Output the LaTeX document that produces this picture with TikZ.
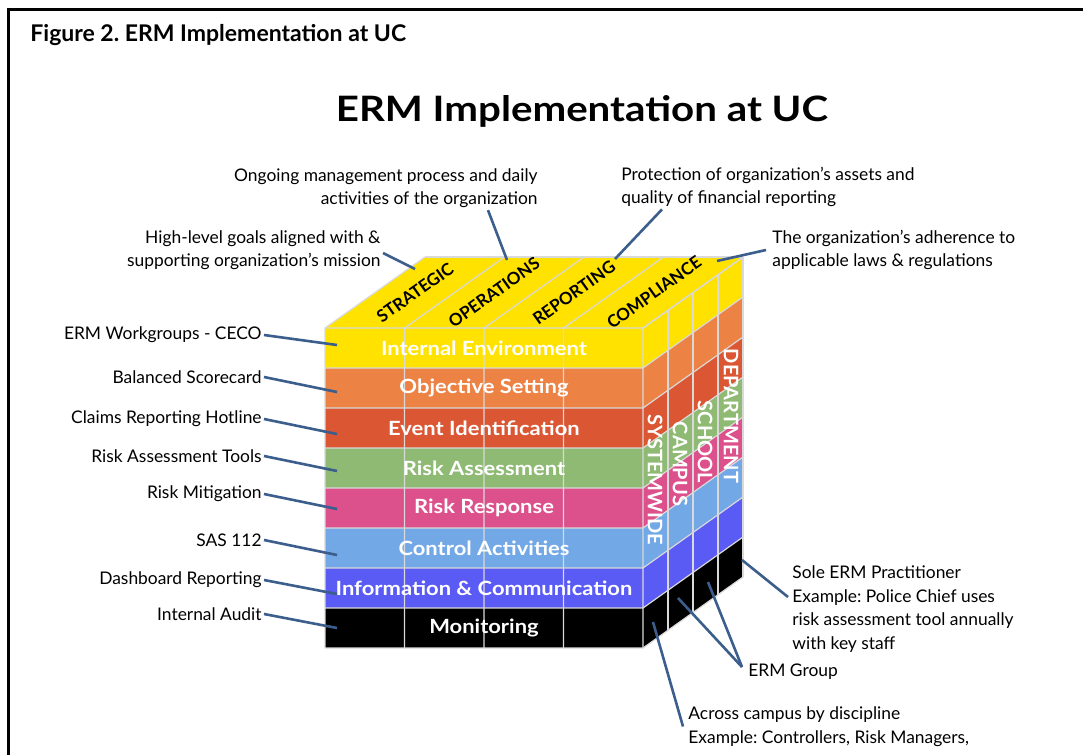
\documentclass[tikz,border=0pt]{standalone}
\usepackage{fontspec}
\setmainfont{Lato}
\newfontfamily\widefont[FakeStretch=1.15]{Lato}
\newfontfamily\layerfont[FakeStretch=1.12]{Lato}
\usetikzlibrary{positioning}
\definecolor{ermyellow}{HTML}{FFE200}
\definecolor{ermorange}{HTML}{EC8244}
\definecolor{ermred}{HTML}{DB5633}
\definecolor{ermgreen}{HTML}{8EBA73}
\definecolor{ermpink}{HTML}{DC508C}
\definecolor{ermsky}{HTML}{73A8E6}
\definecolor{ermviolet}{HTML}{5A5AF5}
\definecolor{leadblue}{HTML}{3B5E8C}
\frenchspacing

\begin{document}
\begin{tikzpicture}[x=0.5pt,y=-0.5pt]
\tikzstyle{grid}=[draw=white!85!black, line width=0.6pt]
\tikzstyle{leader}=[draw=leadblue, line width=1.3pt]
\tikzstyle{note}=[inner sep=0pt, font=\fontsize{8.7}{11.75}\selectfont]
\tikzstyle{layer}=[inner sep=0pt, text=white, font=\layerfont\fontsize{9.8}{10}\selectfont\bfseries]
\tikzstyle{topic}=[inner sep=0pt, rotate=35.4, font=\fontsize{8.5}{9}\selectfont\bfseries]
\tikzstyle{level}=[inner sep=0pt, rotate=-90, text=white, font=\fontsize{10}{10}\selectfont\bfseries]

\useasboundingbox (0,0) rectangle (1083,755);
\fill[white] (0,0) rectangle (1083,755);
\draw[line width=1.5pt] (8,755) -- (8,9) -- (1083,9);

% headings
\node[anchor=west, inner sep=0pt, font=\fontsize{11.5}{13}\selectfont\bfseries] (fig) at (30,35) {Figure 2. ERM Implementation at UC};
\node[inner sep=0pt, font=\widefont\fontsize{17.5}{19}\selectfont\bfseries] (title) at (582,111) {ERM Implementation at UC};

% cube faces
\fill[ermyellow] (325,328) -- (643,328) -- ++(100,-71) -- (425,257) -- cycle;
\foreach \c [count=\i from 0] in {ermyellow,ermorange,ermred,ermgreen,ermpink,ermsky,ermviolet,black} {
  \fill[\c] (325,328+40*\i) rectangle (643,368+40*\i);
  \fill[\c] (643,328+40*\i) -- ++(100,-71) -- ++(0,40) -- (643,368+40*\i) -- cycle;
}
% grid
\foreach \i in {0,...,8}
  \draw[grid] (325,328+40*\i) -- (643,328+40*\i) -- ++(100,-71);
\foreach \x in {325,404.5,484,563.5,643}
  \draw[grid] (\x,648) -- (\x,328) -- ++(100,-71);
\foreach \k in {1,...,4}
  \draw[grid] (643+25*\k,648-17.75*\k) -- (643+25*\k,328-17.75*\k);
\draw[grid] (425,257) -- (743,257);

% front layers
\node[layer] (r_1) at (484,348) {Internal Environment};
\node[layer] (r_2) at (484,388) {Objective Setting};
\node[layer] (r_3) at (484,428) {Event Identification};
\node[layer] (r_4) at (484,468) {Risk Assessment};
\node[layer] (r_5) at (484,508) {Risk Response};
\node[layer] (r_6) at (484,548) {Control Activities};
\node[layer] (r_7) at (484,588) {Information \& Communication};
\node[layer] (r_8) at (484,628) {Monitoring};

% top objectives
\node[topic] (t_1) at (415,292.5) {STRATEGIC};
\node[topic] (t_2) at (494,292.5) {OPERATIONS};
\node[topic] (t_3) at (574,292.5) {REPORTING};
\node[topic] (t_4) at (654,292.5) {COMPLIANCE};

% side levels
\node[level] (s_1) at (655,480) {SYSTEMWIDE};
\node[level] (s_2) at (680,464) {CAMPUS};
\node[level] (s_3) at (705,442) {SCHOOL};
\node[level] (s_4) at (731,416) {DEPARTMENT};

% left notes
\node[note, anchor=east] (n_1) at (262,335) {ERM Workgroups - CECO};
\node[note, anchor=east] (n_2) at (262,377) {Balanced Scorecard};
\node[note, anchor=east] (n_3) at (262,419) {Claims Reporting Hotline};
\node[note, anchor=east] (n_4) at (262,456) {Risk Assessment Tools};
\node[note, anchor=east] (n_5) at (262,494) {Risk Mitigation};
\node[note, anchor=east] (n_6) at (262,540) {SAS 112};
\node[note, anchor=east] (n_7) at (262,580) {Dashboard Reporting};
\node[note, anchor=east] (n_8) at (262,614) {Internal Audit};
\coordinate (p_1) at (337,345);
\coordinate (p_2) at (337,392);
\coordinate (p_3) at (337,434);
\coordinate (p_4) at (337,471);
\coordinate (p_5) at (337,509);
\coordinate (p_6) at (337,555);
\coordinate (p_7) at (337,594);
\coordinate (p_8) at (337,628);

% top notes
\node[note, anchor=east, align=right] (goal) at (381,250) {High-level goals aligned with \&\\supporting organization’s mission};
\node[note, anchor=east, align=right] (ops) at (538,188) {Ongoing management process and daily\\activities of the organization};
\node[note, anchor=west, align=left] (prot) at (621,187) {Protection of organization’s assets and\\quality of financial reporting};
\node[note, anchor=west, align=left] (law) at (772,250) {The organization’s adherence to\\applicable laws \& regulations};
\coordinate (q_1) at (415,269);
\coordinate (q_2) at (507,260);
\coordinate (q_3) at (615,259);
\coordinate (q_4) at (717,261);

% bottom notes
\node[note, anchor=west, align=left] (sole) at (792,609) {Sole ERM Practitioner\\Example: Police Chief uses\\risk assessment tool annually\\with key staff};
\node[note, anchor=west] (grp) at (748,672) {ERM Group};
\node[note, anchor=west, align=left] (acr) at (688,726.5) {Across campus by discipline\\Example: Controllers, Risk Managers,};
\coordinate (b_1) at (742,560);
\coordinate (b_2) at (708,582);
\coordinate (b_3) at (678,598);
\coordinate (b_4) at (653,622);

\path [leader]
  ([xshift=1pt]n_1.east) edge (p_1)
  ([xshift=1pt]n_2.east) edge (p_2)
  ([xshift=1pt]n_3.east) edge (p_3)
  ([xshift=1pt]n_4.east) edge (p_4)
  ([xshift=1pt]n_5.east) edge (p_5)
  ([xshift=1pt]n_6.east) edge (p_6)
  ([xshift=1pt]n_7.east) edge (p_7)
  ([xshift=1pt]n_8.east) edge (p_8)
  ([xshift=1pt,yshift=-1.5pt]goal.east) edge (q_1)
  ([xshift=-25pt,yshift=-1pt]ops.south east) edge (q_2)
  ([xshift=20.5pt,yshift=-1pt]prot.south west) edge (q_3)
  ([xshift=-3pt]law.west) edge (q_4)
  ([xshift=-2pt,yshift=6pt]sole.west) edge (b_1)
  ([xshift=-3pt,yshift=2.5pt]grp.west) edge (b_2)
  ([xshift=-3pt,yshift=2.5pt]grp.west) edge (b_3)
  ([xshift=-2.5pt]acr.west) edge (b_4);
\end{tikzpicture}
\end{document}
